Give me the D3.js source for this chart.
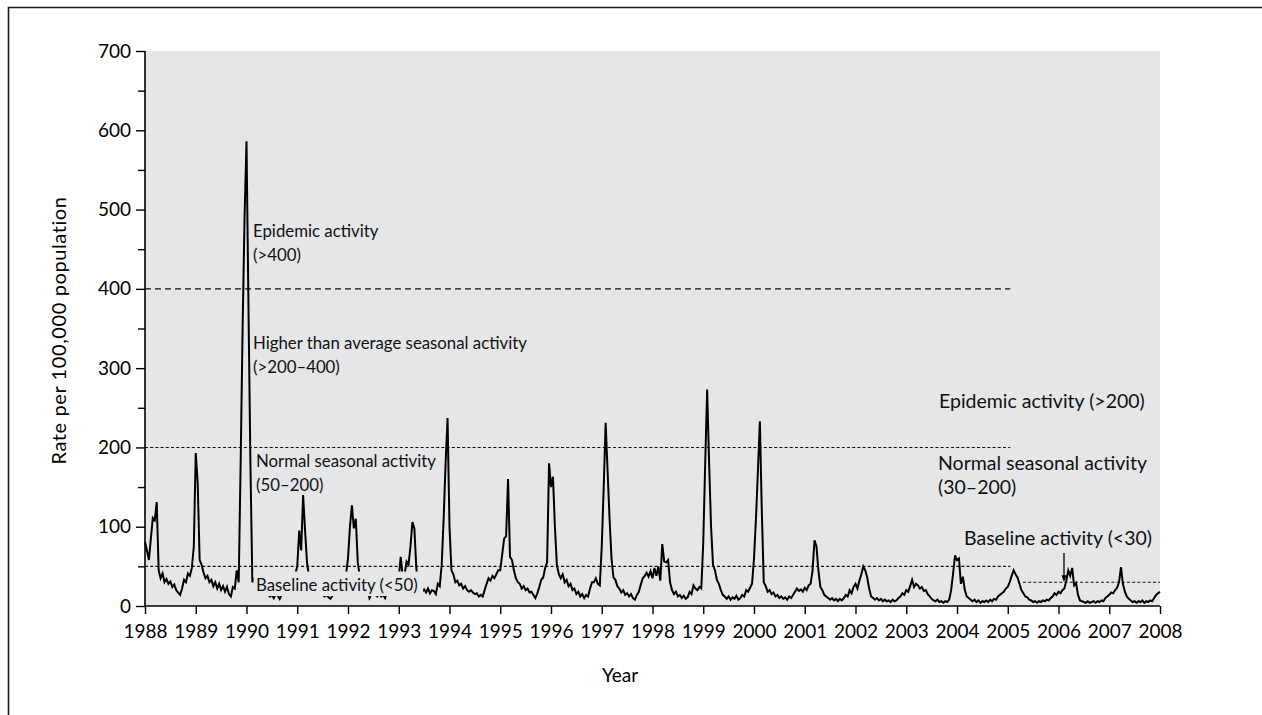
<!DOCTYPE html>
<html>
<head>
<meta charset="utf-8">
<script src="https://cdn.jsdelivr.net/npm/d3@7"></script>
<style>
  html, body { margin: 0; padding: 0; background: #fff; }
  svg { display: block; font-family: Lato, "Open Sans", sans-serif; }
</style>
</head>
<body>
<svg id="chart" width="1262" height="715"></svg>
<script>
// Weekly consultation rate for influenza-like illness, per 100,000 population.
// Each yearly array holds 26 fortnightly readings starting on 1 January.
const rates1988 = [81, 70, 58, 85, 111, 108, 131, 45, 35, 41, 30, 34, 28, 31, 24, 27, 20, 17, 14, 22, 33, 30, 41, 38, 48, 75];
const rates1989 = [193, 155, 58, 52, 42, 35, 38, 30, 33, 25, 30, 22, 28, 20, 25, 18, 24, 15, 12, 24, 22, 45, 30, 180, 350, 490];
const rates1990 = [586, 380, 180, 30, 35, 28, 30, 25, 22, 20, 18, 15, 12, 14, 10, 15, 13, 9, 14, 18, 20, 24, 28, 30, 35, 40];
const rates1991 = [50, 95, 70, 140, 95, 55, 38, 30, 28, 25, 22, 18, 15, 14, 12, 14, 11, 9, 13, 16, 20, 22, 26, 30, 35, 40];
const rates1992 = [60, 100, 127, 98, 110, 55, 38, 30, 27, 24, 20, 10, 15, 18, 14, 12, 16, 12, 14, 10, 18, 22, 25, 30, 36, 40];
const rates1993 = [35, 62, 38, 40, 56, 52, 75, 106, 98, 48, 22, 20, 18, 21, 17, 22, 16, 20, 19, 15, 28, 25, 52, 110, 180, 237];
const rates1994 = [100, 45, 40, 30, 32, 26, 28, 22, 25, 20, 18, 20, 17, 15, 16, 12, 14, 12, 20, 28, 35, 32, 38, 35, 40, 45];
const rates1995 = [45, 65, 85, 88, 160, 62, 58, 45, 35, 30, 28, 22, 25, 20, 22, 17, 18, 14, 10, 16, 24, 33, 36, 48, 55, 180];
const rates1996 = [150, 163, 100, 52, 40, 35, 40, 30, 33, 25, 28, 20, 22, 15, 18, 12, 15, 10, 14, 12, 22, 30, 30, 35, 28, 26];
const rates1997 = [75, 150, 231, 170, 110, 60, 36, 33, 25, 22, 17, 20, 14, 16, 12, 15, 10, 8, 14, 18, 27, 35, 38, 42, 37, 44];
const rates1998 = [35, 48, 38, 50, 32, 78, 56, 55, 58, 30, 20, 15, 18, 12, 14, 10, 13, 9, 11, 18, 15, 26, 22, 20, 24, 22];
const rates1999 = [80, 180, 273, 180, 100, 52, 45, 33, 28, 20, 14, 12, 9, 12, 8, 11, 9, 13, 8, 10, 14, 12, 20, 18, 23, 28];
const rates2000 = [60, 110, 170, 233, 120, 30, 25, 18, 20, 15, 17, 12, 14, 10, 12, 9, 11, 8, 12, 10, 14, 18, 22, 19, 21, 18];
const rates2001 = [23, 20, 26, 28, 45, 83, 75, 45, 24, 20, 14, 12, 10, 8, 10, 7, 9, 6, 9, 7, 10, 14, 12, 20, 16, 24];
const rates2002 = [28, 22, 32, 40, 50, 45, 36, 22, 12, 10, 8, 10, 7, 9, 6, 8, 6, 7, 5, 8, 6, 7, 10, 12, 16, 14];
const rates2003 = [20, 18, 25, 33, 24, 28, 26, 22, 24, 19, 20, 15, 12, 9, 7, 6, 8, 5, 6, 4, 6, 5, 8, 20, 41, 64];
const rates2004 = [58, 60, 28, 37, 20, 12, 10, 8, 6, 8, 5, 7, 4, 6, 5, 7, 5, 8, 6, 9, 8, 12, 14, 16, 18, 22];
const rates2005 = [24, 30, 38, 45, 40, 36, 28, 20, 16, 12, 11, 8, 7, 5, 6, 4, 6, 5, 7, 6, 8, 7, 10, 12, 16, 14];
const rates2006 = [18, 16, 20, 22, 32, 45, 38, 48, 26, 29, 14, 7, 6, 5, 4, 6, 4, 5, 6, 4, 6, 5, 7, 6, 10, 12];
const rates2007 = [14, 17, 16, 20, 23, 30, 49, 28, 18, 12, 9, 7, 5, 6, 4, 6, 5, 7, 4, 6, 5, 7, 6, 10, 14, 16];
const rates2008 = [18];

const seasons = [
  [1988, rates1988], [1989, rates1989], [1990, rates1990], [1991, rates1991],
  [1992, rates1992], [1993, rates1993], [1994, rates1994], [1995, rates1995],
  [1996, rates1996], [1997, rates1997], [1998, rates1998], [1999, rates1999],
  [2000, rates2000], [2001, rates2001], [2002, rates2002], [2003, rates2003],
  [2004, rates2004], [2005, rates2005], [2006, rates2006], [2007, rates2007],
  [2008, rates2008]
];
const readingsPerYear = 26;

// Axis ticks
const yearTicks = d3.range(1988, 2009);
const rateTicks = [0, 100, 200, 300, 400, 500, 600, 700];
const rateMinorTicks = [50, 150, 250, 350, 450, 550, 650];

// Activity thresholds: old scheme until 2005, revised scheme afterwards
const oldSchemeYears = [1988, 2005.05];
const oldThresholds = [400, 200, 50];
const newSchemeYears = [2005.3, 2008];
const newThresholds = [30];

// Threshold descriptions
const oldLabels = [
  ["Epidemic activity", "(>400)"],
  ["Higher than average seasonal activity", "(>200–400)"],
  ["Normal seasonal activity", "(50–200)"],
  ["Baseline activity (<50)"]
];
const newLabels = [
  ["Epidemic activity (>200)"],
  ["Normal seasonal activity", "(30–200)"],
  ["Baseline activity (<30)"]
];

const svg = d3.select("#chart");
const margin = { left: 145, right: 102, top: 51, bottom: 109 };
const W = 1262, H = 715;

const x = d3.scaleLinear().domain([1988, 2008]).range([margin.left, W - margin.right]);
const y = d3.scaleLinear().domain([0, 700]).range([H - margin.bottom, margin.top]);

// Figure frame
svg.append("path")
  .attr("d", `M8.5,715 V7.5 H1262`)
  .attr("fill", "none").attr("stroke", "#1a1a1a").attr("stroke-width", 1.6);

// Plot background
svg.append("rect")
  .attr("x", x(1988)).attr("y", y(700))
  .attr("width", x(2008) - x(1988)).attr("height", y(0) - y(700))
  .attr("fill", "#e5e6e8");

// Threshold lines
const dashFor = v => v === 400 ? "6,4" : "3,2.2";
oldThresholds.forEach(v => {
  svg.append("line")
    .attr("x1", x(oldSchemeYears[0])).attr("x2", x(oldSchemeYears[1]))
    .attr("y1", y(v)).attr("y2", y(v))
    .attr("stroke", "#111").attr("stroke-width", 1.1)
    .attr("stroke-dasharray", dashFor(v));
});
newThresholds.forEach(v => {
  svg.append("line")
    .attr("x1", x(newSchemeYears[0])).attr("x2", x(newSchemeYears[1]))
    .attr("y1", y(v)).attr("y2", y(v))
    .attr("stroke", "#111").attr("stroke-width", 1.1)
    .attr("stroke-dasharray", "3,2.2");
});

// Rate series
const points = [];
seasons.forEach(([yr, vals]) => vals.forEach((v, i) => points.push({ t: yr + i / readingsPerYear, v })));
const line = d3.line().x(d => x(d.t)).y(d => y(d.v));
svg.append("path")
  .datum(points)
  .attr("d", line)
  .attr("fill", "none")
  .attr("stroke", "#000")
  .attr("stroke-width", 2)
  .attr("stroke-linejoin", "miter");

// Backing panel behind the baseline caption
svg.append("rect")
  .attr("x", x(1990.14)).attr("y", y(43.5))
  .attr("width", x(1993.48) - x(1990.14)).attr("height", y(12.5) - y(43.5))
  .attr("fill", "#e5e6e8");

// Axes
const yAxis = d3.axisLeft(y).tickValues(rateTicks).tickSize(9).tickPadding(5).tickFormat(d3.format("d"));
const yMinor = d3.axisLeft(y).tickValues(rateMinorTicks).tickSize(7).tickFormat("");
const xAxis = d3.axisBottom(x).tickValues(yearTicks).tickSize(8).tickPadding(11).tickFormat(d3.format("d"));

const gy = svg.append("g").attr("transform", `translate(${x(1988)},0)`).call(yAxis);
svg.append("g").attr("transform", `translate(${x(1988)},0)`).call(yMinor).select(".domain").remove();
const gx = svg.append("g").attr("transform", `translate(0,${y(0)})`).call(xAxis);

[gy, gx].forEach(g => {
  g.select(".domain").attr("stroke", "#000").attr("stroke-width", 1.6);
  g.selectAll(".tick text").attr("fill", "#000").style("font-size", "19px").style("font-family", "Lato, sans-serif");
});
svg.selectAll(".tick line").attr("stroke", "#000").attr("stroke-width", 1.4);
gy.select(".domain").attr("d", `M0,${y(700)}V${y(0)}`);
gx.select(".domain").attr("d", `M${x(1988)},0H${x(2008)}`);

// Axis titles
svg.append("text")
  .attr("transform", `translate(66,${(y(0) + y(700)) / 2 + 2}) rotate(-90)`)
  .attr("text-anchor", "middle")
  .style("font-size", "20px")
  .style("letter-spacing", "0.6px")
  .text("Rate per 100,000 population");
svg.append("text")
  .attr("x", 620).attr("y", 682)
  .attr("text-anchor", "middle")
  .style("font-size", "19px")
  .text("Year");

// Threshold captions
function caption(lines, px, baseline, size) {
  const t = svg.append("text").attr("x", px).attr("y", baseline).style("font-size", size + "px").attr("fill", "#111");
  lines.forEach((s, i) => t.append("tspan").attr("x", px).attr("dy", i === 0 ? 0 : 24).text(s));
}
caption(oldLabels[0], 253, 237, 16.8);
caption(oldLabels[1], 253, 349, 16.8);
caption(oldLabels[2], 256, 467, 16.8);
caption(oldLabels[3], 256, 591, 16.8);
caption(newLabels[0], 939, 408, 19.5);
caption(newLabels[1], 938, 470, 19.5);
caption(newLabels[2], 964, 545, 19.5);

// Pointer to the revised baseline threshold
const ax = 1064;
svg.append("line")
  .attr("x1", ax).attr("x2", ax).attr("y1", 553).attr("y2", y(30) - 4)
  .attr("stroke", "#000").attr("stroke-width", 1.3);
svg.append("path")
  .attr("d", `M${ax - 2.5},${y(30) - 7} L${ax},${y(30)} L${ax + 2.5},${y(30) - 7} Z`)
  .attr("fill", "#000");
</script>
</body>
</html>
